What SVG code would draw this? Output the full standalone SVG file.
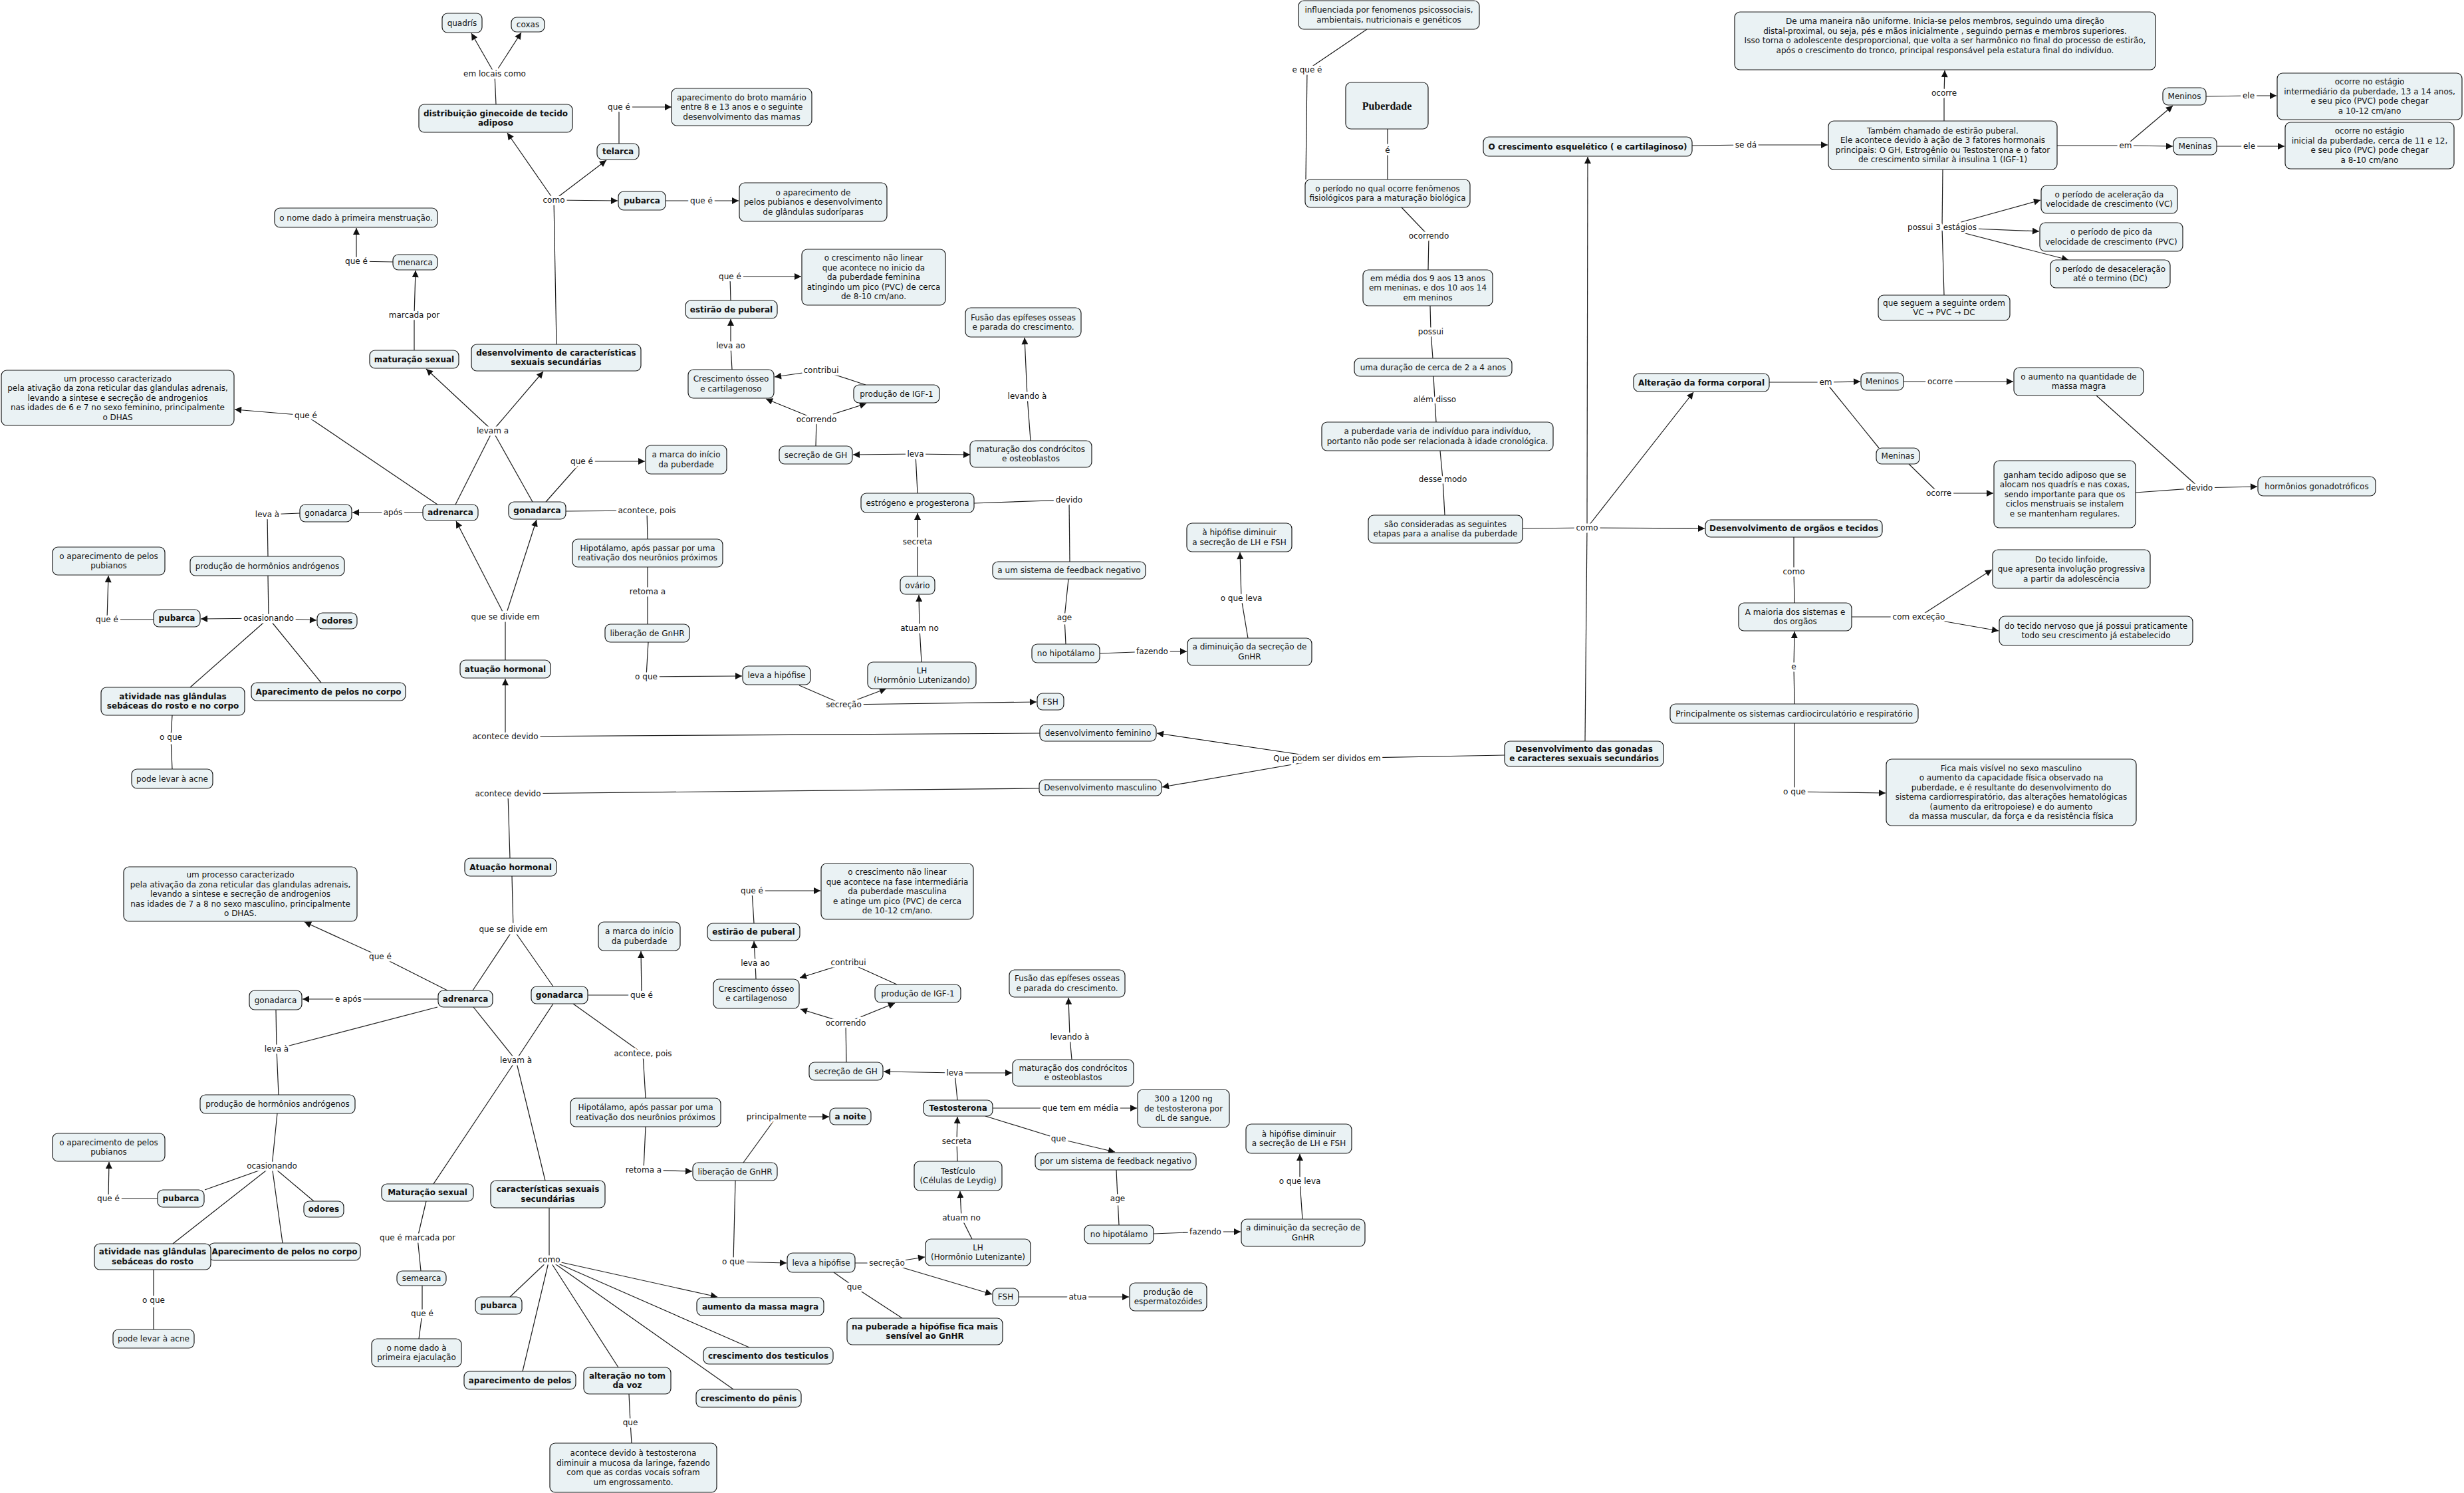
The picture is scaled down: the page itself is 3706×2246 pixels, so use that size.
<svg xmlns="http://www.w3.org/2000/svg" width="3706" height="2246" viewBox="0 0 3706 2246">
<style>
.n rect{fill:#eaf2f4;stroke:#1a1a1a;stroke-width:1.2}
.n text{font-family:"DejaVu Sans",Verdana,sans-serif;font-size:12px;fill:#111;text-anchor:middle}
.b text{font-weight:bold}
.c path{stroke:#1a1a1a;stroke-width:1.2;fill:none}
.c path.a{marker-end:url(#ah)}
.l text{font-family:"DejaVu Sans",Verdana,sans-serif;font-size:12px;fill:#111;text-anchor:middle;paint-order:stroke;stroke:#fff;stroke-width:7px;stroke-linejoin:round}
</style>
<defs>
<marker id="ah" viewBox="0 0 10 10" refX="10" refY="5" markerWidth="11" markerHeight="10" markerUnits="userSpaceOnUse" orient="auto"><path d="M0,0 L10,5 L0,10 z" fill="#111"/></marker>
</defs>
<rect x="0" y="0" width="3706" height="2246" fill="#fff"/>
<g id="connectors" class="c">
<path d="M746 157 L744 111"/>
<path class="a" d="M744 111 L709 50"/>
<path class="a" d="M744 111 L784 49"/>
<path d="M837 518 L833 301"/>
<path class="a" d="M833 301 L763 200"/>
<path class="a" d="M833 301 L912 241"/>
<path class="a" d="M833 301 L929 302"/>
<path d="M931 216 L931 161"/>
<path class="a" d="M931 161 L1010 161"/>
<path d="M1001 302 L1055 302"/>
<path class="a" d="M1055 302 L1111 302"/>
<path d="M591 394 L536 393"/>
<path class="a" d="M536 393 L536 343"/>
<path d="M623 527 L623 474"/>
<path class="a" d="M623 474 L625 407"/>
<path d="M658 759 L460 625"/>
<path class="a" d="M460 625 L353 616"/>
<path d="M685 759 L741 648"/>
<path d="M801 755 L741 648"/>
<path class="a" d="M741 648 L641 555"/>
<path class="a" d="M741 648 L817 559"/>
<path d="M821 755 L875 694"/>
<path class="a" d="M875 694 L970 694"/>
<path d="M1099 452 L1098 416"/>
<path class="a" d="M1098 416 L1205 416"/>
<path d="M1101 556 L1099 520"/>
<path class="a" d="M1099 520 L1099 480"/>
<path d="M1302 579 L1235 557"/>
<path class="a" d="M1235 557 L1165 567"/>
<path d="M1227 671 L1228 631"/>
<path class="a" d="M1228 631 L1152 600"/>
<path class="a" d="M1228 631 L1303 607"/>
<path d="M1380 742 L1377 683"/>
<path class="a" d="M1377 683 L1283 684"/>
<path class="a" d="M1377 683 L1459 684"/>
<path d="M1550 663 L1545 596"/>
<path class="a" d="M1545 596 L1541 508"/>
<path d="M1465 757 L1608 752"/>
<path d="M1608 752 L1609 845"/>
<path d="M636 771 L591 771"/>
<path class="a" d="M591 771 L530 771"/>
<path d="M451 772 L402 774"/>
<path d="M402 774 L403 837"/>
<path d="M851 769 L973 768"/>
<path d="M973 768 L974 811"/>
<path d="M974 853 L974 890"/>
<path d="M974 890 L974 939"/>
<path d="M975 966 L972 1018"/>
<path class="a" d="M972 1018 L1116 1017"/>
<path d="M1202 1031 L1269 1060"/>
<path class="a" d="M1269 1060 L1333 1036"/>
<path class="a" d="M1269 1060 L1559 1056"/>
<path d="M1386 996 L1383 945"/>
<path class="a" d="M1383 945 L1382 895"/>
<path d="M1380 867 L1380 815"/>
<path class="a" d="M1380 815 L1380 772"/>
<path d="M1607 871 L1601 929"/>
<path d="M1601 929 L1603 969"/>
<path d="M1654 983 L1733 980"/>
<path class="a" d="M1733 980 L1785 980"/>
<path d="M1877 960 L1867 900"/>
<path class="a" d="M1867 900 L1865 831"/>
<path d="M1564 1103 L760 1108"/>
<path class="a" d="M760 1108 L760 1021"/>
<path d="M2263 1136 L1996 1141"/>
<path class="a" d="M1996 1141 L1740 1103"/>
<path class="a" d="M1996 1141 L1748 1184"/>
<path d="M1563 1186 L764 1194"/>
<path d="M764 1194 L767 1291"/>
<path d="M760 993 L760 928"/>
<path class="a" d="M760 928 L686 784"/>
<path class="a" d="M760 928 L807 782"/>
<path d="M403 866 L404 930"/>
<path class="a" d="M404 930 L302 931"/>
<path class="a" d="M404 930 L476 933"/>
<path d="M404 930 L286 1034"/>
<path d="M404 930 L483 1027"/>
<path d="M231 932 L161 932"/>
<path class="a" d="M161 932 L163 866"/>
<path d="M259 1076 L257 1109"/>
<path d="M257 1109 L259 1157"/>
<path d="M2056 44 L1966 105"/>
<path d="M1966 105 L1964 270"/>
<path d="M2087 194 L2087 226"/>
<path d="M2087 226 L2087 270"/>
<path d="M2108 312 L2149 355"/>
<path d="M2149 355 L2148 406"/>
<path d="M2151 460 L2152 499"/>
<path d="M2152 499 L2155 539"/>
<path d="M2156 566 L2158 601"/>
<path d="M2158 601 L2160 635"/>
<path d="M2166 678 L2170 721"/>
<path d="M2170 721 L2173 775"/>
<path d="M2290 795 L2387 794"/>
<path class="a" d="M2387 794 L2388 236"/>
<path class="a" d="M2387 794 L2547 590"/>
<path class="a" d="M2387 794 L2564 795"/>
<path d="M2387 794 L2384 1115"/>
<path d="M2545 219 L2626 218"/>
<path class="a" d="M2626 218 L2749 218"/>
<path d="M2924 182 L2924 140"/>
<path class="a" d="M2924 140 L2925 106"/>
<path d="M3094 219 L3197 219"/>
<path class="a" d="M3197 219 L3268 159"/>
<path class="a" d="M3197 219 L3268 220"/>
<path d="M3318 145 L3382 144"/>
<path class="a" d="M3382 144 L3424 144"/>
<path d="M3334 220 L3383 220"/>
<path class="a" d="M3383 220 L3436 220"/>
<path d="M2922 255 L2921 342"/>
<path d="M2921 342 L2924 444"/>
<path class="a" d="M2921 342 L3069 301"/>
<path class="a" d="M2921 342 L3067 348"/>
<path class="a" d="M2921 342 L3111 391"/>
<path d="M2661 575 L2746 575"/>
<path class="a" d="M2746 575 L2798 574"/>
<path d="M2746 575 L2826 674"/>
<path d="M2863 574 L2918 574"/>
<path class="a" d="M2918 574 L3028 574"/>
<path d="M2871 698 L2916 742"/>
<path class="a" d="M2916 742 L2998 742"/>
<path d="M3212 741 L3308 734"/>
<path d="M3153 595 L3308 734"/>
<path class="a" d="M3308 734 L3395 732"/>
<path d="M2698 808 L2698 860"/>
<path d="M2698 860 L2699 907"/>
<path d="M2699 1059 L2698 1003"/>
<path class="a" d="M2698 1003 L2699 950"/>
<path d="M2699 1088 L2699 1191"/>
<path class="a" d="M2699 1191 L2836 1193"/>
<path d="M2785 928 L2886 928"/>
<path class="a" d="M2886 928 L2996 857"/>
<path class="a" d="M2886 928 L3006 949"/>
<path d="M770 1318 L772 1398"/>
<path d="M772 1398 L711 1490"/>
<path d="M772 1398 L832 1484"/>
<path d="M673 1490 L572 1439"/>
<path class="a" d="M572 1439 L458 1387"/>
<path d="M659 1503 L524 1503"/>
<path class="a" d="M524 1503 L455 1503"/>
<path d="M415 1519 L416 1578"/>
<path d="M658 1515 L416 1578"/>
<path d="M416 1578 L419 1647"/>
<path d="M417 1675 L409 1754"/>
<path d="M409 1754 L308 1790"/>
<path d="M409 1754 L260 1871"/>
<path d="M409 1754 L425 1870"/>
<path d="M409 1754 L472 1807"/>
<path d="M237 1803 L163 1803"/>
<path class="a" d="M163 1803 L164 1748"/>
<path d="M231 1910 L231 1956"/>
<path d="M231 1956 L231 2000"/>
<path d="M712 1515 L776 1595"/>
<path d="M832 1510 L776 1595"/>
<path d="M776 1595 L652 1781"/>
<path d="M776 1595 L820 1776"/>
<path d="M641 1807 L628 1862"/>
<path d="M628 1862 L633 1912"/>
<path d="M635 1934 L635 1976"/>
<path d="M635 1976 L630 2014"/>
<path d="M826 1817 L826 1895"/>
<path d="M826 1895 L767 1951"/>
<path d="M826 1895 L786 2063"/>
<path d="M826 1895 L930 2057"/>
<path class="a" d="M826 1895 L1079 1951"/>
<path d="M826 1895 L1127 2027"/>
<path d="M826 1895 L1103 2090"/>
<path d="M946 2097 L948 2140"/>
<path d="M948 2140 L950 2171"/>
<path d="M862 1510 L967 1585"/>
<path d="M967 1585 L971 1652"/>
<path d="M971 1695 L968 1760"/>
<path class="a" d="M968 1760 L1041 1762"/>
<path d="M1118 1749 L1168 1680"/>
<path class="a" d="M1168 1680 L1247 1680"/>
<path d="M1106 1776 L1103 1898"/>
<path class="a" d="M1103 1898 L1183 1900"/>
<path d="M1286 1900 L1334 1900"/>
<path class="a" d="M1334 1900 L1391 1891"/>
<path class="a" d="M1334 1900 L1492 1947"/>
<path d="M1254 1914 L1285 1936"/>
<path d="M1285 1936 L1357 1983"/>
<path d="M1532 1951 L1621 1951"/>
<path class="a" d="M1621 1951 L1698 1951"/>
<path d="M1462 1864 L1446 1832"/>
<path class="a" d="M1446 1832 L1444 1792"/>
<path d="M1440 1747 L1439 1717"/>
<path class="a" d="M1439 1717 L1440 1680"/>
<path d="M1493 1667 L1625 1667"/>
<path class="a" d="M1625 1667 L1710 1667"/>
<path d="M1482 1679 L1592 1713"/>
<path class="a" d="M1592 1713 L1677 1733"/>
<path d="M1679 1760 L1681 1803"/>
<path d="M1681 1803 L1683 1843"/>
<path d="M1735 1856 L1813 1853"/>
<path class="a" d="M1813 1853 L1866 1853"/>
<path d="M1959 1834 L1955 1777"/>
<path class="a" d="M1955 1777 L1955 1736"/>
<path d="M1440 1655 L1436 1614"/>
<path class="a" d="M1436 1614 L1329 1612"/>
<path class="a" d="M1436 1614 L1522 1614"/>
<path d="M1612 1594 L1609 1560"/>
<path class="a" d="M1609 1560 L1607 1501"/>
<path d="M1273 1598 L1272 1539"/>
<path class="a" d="M1272 1539 L1204 1518"/>
<path class="a" d="M1272 1539 L1346 1509"/>
<path d="M1349 1481 L1276 1448"/>
<path class="a" d="M1276 1448 L1203 1471"/>
<path d="M1137 1473 L1136 1449"/>
<path class="a" d="M1136 1449 L1134 1416"/>
<path d="M1134 1389 L1131 1340"/>
<path class="a" d="M1131 1340 L1234 1340"/>
<path d="M884 1497 L965 1497"/>
<path class="a" d="M965 1497 L964 1431"/>
</g>
<g id="labels" class="l">
<text x="744" y="115">em locais como</text>
<text x="833" y="305">como</text>
<text x="931" y="165">que é</text>
<text x="1055" y="306">que é</text>
<text x="536" y="397">que é</text>
<text x="623" y="478">marcada por</text>
<text x="460" y="629">que é</text>
<text x="741" y="652">levam a</text>
<text x="875" y="698">que é</text>
<text x="1098" y="420">que é</text>
<text x="1099" y="524">leva ao</text>
<text x="1235" y="561">contribui</text>
<text x="1228" y="635">ocorrendo</text>
<text x="1377" y="687">leva</text>
<text x="1545" y="600">levando à</text>
<text x="1608" y="756">devido</text>
<text x="591" y="775">após</text>
<text x="402" y="778">leva à</text>
<text x="973" y="772">acontece, pois</text>
<text x="974" y="894">retoma a</text>
<text x="972" y="1022">o que</text>
<text x="1269" y="1064">secreção</text>
<text x="1383" y="949">atuam no</text>
<text x="1380" y="819">secreta</text>
<text x="1601" y="933">age</text>
<text x="1733" y="984">fazendo</text>
<text x="1867" y="904">o que leva</text>
<text x="760" y="1112">acontece devido</text>
<text x="1996" y="1145">Que podem ser dividos em</text>
<text x="764" y="1198">acontece devido</text>
<text x="760" y="932">que se divide em</text>
<text x="404" y="934">ocasionando</text>
<text x="161" y="936">que é</text>
<text x="257" y="1113">o que</text>
<text x="1966" y="109">e que é</text>
<text x="2087" y="230">é</text>
<text x="2149" y="359">ocorrendo</text>
<text x="2152" y="503">possui</text>
<text x="2158" y="605">além disso</text>
<text x="2170" y="725">desse modo</text>
<text x="2387" y="798">como</text>
<text x="2626" y="222">se dá</text>
<text x="2924" y="144">ocorre</text>
<text x="3197" y="223">em</text>
<text x="3382" y="148">ele</text>
<text x="3383" y="224">ele</text>
<text x="2921" y="346">possui 3 estágios</text>
<text x="2746" y="579">em</text>
<text x="2918" y="578">ocorre</text>
<text x="2916" y="746">ocorre</text>
<text x="3308" y="738">devido</text>
<text x="2698" y="864">como</text>
<text x="2698" y="1007">e</text>
<text x="2699" y="1195">o que</text>
<text x="2886" y="932">com exceção</text>
<text x="772" y="1402">que se divide em</text>
<text x="572" y="1443">que é</text>
<text x="524" y="1507">e após</text>
<text x="416" y="1582">leva à</text>
<text x="409" y="1758">ocasionando</text>
<text x="163" y="1807">que é</text>
<text x="231" y="1960">o que</text>
<text x="776" y="1599">levam à</text>
<text x="628" y="1866">que é marcada por</text>
<text x="635" y="1980">que é</text>
<text x="826" y="1899">como</text>
<text x="948" y="2144">que</text>
<text x="967" y="1589">acontece, pois</text>
<text x="968" y="1764">retoma a</text>
<text x="1168" y="1684">principalmente</text>
<text x="1103" y="1902">o que</text>
<text x="1334" y="1904">secreção</text>
<text x="1285" y="1940">que</text>
<text x="1621" y="1955">atua</text>
<text x="1446" y="1836">atuam no</text>
<text x="1439" y="1721">secreta</text>
<text x="1625" y="1671">que tem em média</text>
<text x="1592" y="1717">que</text>
<text x="1681" y="1807">age</text>
<text x="1813" y="1857">fazendo</text>
<text x="1955" y="1781">o que leva</text>
<text x="1436" y="1618">leva</text>
<text x="1609" y="1564">levando à</text>
<text x="1272" y="1543">ocorrendo</text>
<text x="1276" y="1452">contribui</text>
<text x="1136" y="1453">leva ao</text>
<text x="1131" y="1344">que é</text>
<text x="965" y="1501">que é</text>
</g>
<g id="quadris" class="n"><rect x="665" y="20" width="60" height="29" rx="8"/><text x="695" y="38.5">quadrís</text></g>
<g id="coxas" class="n"><rect x="769" y="26" width="50" height="22" rx="8"/><text x="794" y="41">coxas</text></g>
<g id="distribuicao" class="n b"><rect x="630" y="157" width="231" height="42" rx="8"/><text x="745.5" y="174.75"><tspan x="745.5">distribuição ginecoide de tecido</tspan><tspan x="745.5" dy="14.5">adiposo</tspan></text></g>
<g id="telarca" class="n b"><rect x="898" y="216" width="63" height="24" rx="8"/><text x="929.5" y="232">telarca</text></g>
<g id="broto" class="n"><rect x="1010" y="133" width="211" height="56" rx="8"/><text x="1115.5" y="150.5"><tspan x="1115.5">aparecimento do broto mamário</tspan><tspan x="1115.5" dy="14.5">entre 8 e 13 anos e o seguinte</tspan><tspan x="1115.5" dy="14.5">desenvolvimento das mamas</tspan></text></g>
<g id="pubarca1" class="n b"><rect x="930" y="288" width="71" height="28" rx="8"/><text x="965.5" y="306">pubarca</text></g>
<g id="pelos_sudor" class="n"><rect x="1112" y="275" width="222" height="58" rx="8"/><text x="1223" y="293.5"><tspan x="1223">o aparecimento de</tspan><tspan x="1223" dy="14.5">pelos pubianos e desenvolvimento</tspan><tspan x="1223" dy="14.5">de glândulas sudoríparas</tspan></text></g>
<g id="nome_menst" class="n"><rect x="413" y="313" width="245" height="29" rx="8"/><text x="535.5" y="331.5">o nome dado à primeira menstruação.</text></g>
<g id="menarca" class="n"><rect x="591" y="383" width="67" height="23" rx="8"/><text x="624.5" y="398.5">menarca</text></g>
<g id="maturacao1" class="n b"><rect x="556" y="527" width="134" height="27" rx="8"/><text x="623" y="544.5">maturação sexual</text></g>
<g id="desenv_carac" class="n b"><rect x="709" y="518" width="255" height="40" rx="8"/><text x="836.5" y="534.75"><tspan x="836.5">desenvolvimento de características</tspan><tspan x="836.5" dy="14.5">sexuais secundárias</tspan></text></g>
<g id="processo1" class="n"><rect x="2" y="557" width="350" height="83" rx="8"/><text x="177" y="573.5"><tspan x="177">um processo caracterizado</tspan><tspan x="177" dy="14.5">pela ativação da zona reticular das glandulas adrenais,</tspan><tspan x="177" dy="14.5">levando a sintese e secreção de androgenios</tspan><tspan x="177" dy="14.5">nas idades de 6 e 7 no sexo feminino, principalmente</tspan><tspan x="177" dy="14.5">o DHAS</tspan></text></g>
<g id="estirao1" class="n b"><rect x="1031" y="452" width="138" height="27" rx="8"/><text x="1100" y="469.5">estirão de puberal</text></g>
<g id="naolinear1" class="n"><rect x="1206" y="375" width="216" height="84" rx="8"/><text x="1314" y="392"><tspan x="1314">o crescimento não linear</tspan><tspan x="1314" dy="14.5">que acontece no inicio da</tspan><tspan x="1314" dy="14.5">da puberdade feminina</tspan><tspan x="1314" dy="14.5">atingindo um pico (PVC) de cerca</tspan><tspan x="1314" dy="14.5">de 8-10 cm/ano.</tspan></text></g>
<g id="cresc1" class="n"><rect x="1035" y="556" width="129" height="43" rx="8"/><text x="1099.5" y="574.25"><tspan x="1099.5">Crescimento ósseo</tspan><tspan x="1099.5" dy="14.5">e cartilagenoso</tspan></text></g>
<g id="igf1" class="n"><rect x="1284" y="579" width="129" height="27" rx="8"/><text x="1348.5" y="596.5">produção de IGF-1</text></g>
<g id="gh1" class="n"><rect x="1172" y="671" width="110" height="27" rx="8"/><text x="1227" y="688.5">secreção de GH</text></g>
<g id="matcond1" class="n"><rect x="1459" y="663" width="183" height="40" rx="8"/><text x="1550.5" y="679.75"><tspan x="1550.5">maturação dos condrócitos</tspan><tspan x="1550.5" dy="14.5">e osteoblastos</tspan></text></g>
<g id="fusao1" class="n"><rect x="1452" y="463" width="174" height="44" rx="8"/><text x="1539" y="481.75"><tspan x="1539">Fusão das epífeses osseas</tspan><tspan x="1539" dy="14.5">e parada do crescimento.</tspan></text></g>
<g id="marca1" class="n"><rect x="971" y="670" width="122" height="43" rx="8"/><text x="1032" y="688.25"><tspan x="1032">a marca do início</tspan><tspan x="1032" dy="14.5">da puberdade</tspan></text></g>
<g id="estrogeno" class="n"><rect x="1295" y="742" width="170" height="29" rx="8"/><text x="1380" y="760.5">estrógeno e progesterona</text></g>
<g id="gonadarca_p1" class="n"><rect x="451" y="759" width="78" height="26" rx="8"/><text x="490" y="776">gonadarca</text></g>
<g id="adrenarca1" class="n b"><rect x="636" y="759" width="83" height="24" rx="8"/><text x="677.5" y="775">adrenarca</text></g>
<g id="gonadarca_b1" class="n b"><rect x="765" y="755" width="86" height="26" rx="8"/><text x="808" y="772">gonadarca</text></g>
<g id="hipotalamo1" class="n"><rect x="861" y="811" width="226" height="42" rx="8"/><text x="974" y="828.75"><tspan x="974">Hipotálamo, após passar por uma</tspan><tspan x="974" dy="14.5">reativação dos neurônios próximos</tspan></text></g>
<g id="gnhr1" class="n"><rect x="910" y="939" width="127" height="27" rx="8"/><text x="973.5" y="956.5">liberação de GnHR</text></g>
<g id="hipofise1" class="n"><rect x="1117" y="1002" width="102" height="28" rx="8"/><text x="1168" y="1020">leva a hipófise</text></g>
<g id="lh1" class="n"><rect x="1305" y="996" width="163" height="40" rx="8"/><text x="1386.5" y="1012.75"><tspan x="1386.5">LH</tspan><tspan x="1386.5" dy="14.5">(Hormônio Lutenizando)</tspan></text></g>
<g id="fsh1" class="n"><rect x="1560" y="1043" width="40" height="25" rx="8"/><text x="1580" y="1059.5">FSH</text></g>
<g id="ovario" class="n"><rect x="1354" y="867" width="52" height="27" rx="8"/><text x="1380" y="884.5">ovário</text></g>
<g id="feedback1" class="n"><rect x="1493" y="845" width="230" height="26" rx="8"/><text x="1608" y="862">a um sistema de feedback negativo</text></g>
<g id="nohipo1" class="n"><rect x="1552" y="969" width="102" height="28" rx="8"/><text x="1603" y="987">no hipotálamo</text></g>
<g id="diminuicao1" class="n"><rect x="1786" y="960" width="187" height="41" rx="8"/><text x="1879.5" y="977.25"><tspan x="1879.5">a diminuição da secreção de</tspan><tspan x="1879.5" dy="14.5">GnHR</tspan></text></g>
<g id="hipodim1" class="n"><rect x="1785" y="787" width="158" height="43" rx="8"/><text x="1864" y="805.25"><tspan x="1864">à hipófise diminuir</tspan><tspan x="1864" dy="14.5">a secreção de LH e FSH</tspan></text></g>
<g id="desfem" class="n"><rect x="1564" y="1090" width="175" height="25" rx="8"/><text x="1651.5" y="1106.5">desenvolvimento feminino</text></g>
<g id="desmasc" class="n"><rect x="1563" y="1173" width="184" height="24" rx="8"/><text x="1655" y="1189">Desenvolvimento masculino</text></g>
<g id="producao_andr1" class="n"><rect x="286" y="837" width="232" height="29" rx="8"/><text x="402" y="855.5">produção de hormônios andrógenos</text></g>
<g id="pubarca2" class="n b"><rect x="231" y="917" width="70" height="26" rx="8"/><text x="266" y="934">pubarca</text></g>
<g id="odores1" class="n b"><rect x="477" y="922" width="60" height="24" rx="8"/><text x="507" y="938">odores</text></g>
<g id="pelospub1" class="n"><rect x="79" y="823" width="169" height="42" rx="8"/><text x="163.5" y="840.75"><tspan x="163.5">o aparecimento de pelos</tspan><tspan x="163.5" dy="14.5">pubianos</tspan></text></g>
<g id="atividade1" class="n b"><rect x="152" y="1034" width="216" height="42" rx="8"/><text x="260" y="1051.75"><tspan x="260">atividade nas glândulas</tspan><tspan x="260" dy="14.5">sebáceas do rosto e no corpo</tspan></text></g>
<g id="aparecimento_corpo1" class="n b"><rect x="378" y="1027" width="232" height="27" rx="8"/><text x="494" y="1044.5">Aparecimento de pelos no corpo</text></g>
<g id="acne1" class="n"><rect x="198" y="1157" width="122" height="29" rx="8"/><text x="259" y="1175.5">pode levar à acne</text></g>
<g id="atuacao1" class="n b"><rect x="692" y="993" width="136" height="27" rx="8"/><text x="760" y="1010.5">atuação hormonal</text></g>
<g id="influenciada" class="n"><rect x="1953" y="1" width="272" height="43" rx="8"/><text x="2089" y="19.25"><tspan x="2089">influenciada por fenomenos psicossociais,</tspan><tspan x="2089" dy="14.5">ambientais, nutricionais e genéticos</tspan></text></g>
<g id="puberdade" class="n"><rect x="2024" y="124" width="124" height="70" rx="8"/><text x="2086" y="164.5" style="font-family:'Liberation Serif','Times New Roman',serif;font-size:16px;font-weight:bold">Puberdade</text></g>
<g id="periodo" class="n"><rect x="1963" y="270" width="248" height="42" rx="8"/><text x="2087" y="287.75"><tspan x="2087">o período no qual ocorre fenômenos</tspan><tspan x="2087" dy="14.5">fisiológicos para a maturação biológica</tspan></text></g>
<g id="emmedia" class="n"><rect x="2050" y="406" width="195" height="54" rx="8"/><text x="2147.5" y="422.5"><tspan x="2147.5">em média dos 9 aos 13 anos</tspan><tspan x="2147.5" dy="14.5">em meninas, e dos 10 aos 14</tspan><tspan x="2147.5" dy="14.5">em meninos</tspan></text></g>
<g id="duracao" class="n"><rect x="2037" y="539" width="237" height="27" rx="8"/><text x="2155.5" y="556.5">uma duração de cerca de 2 a 4 anos</text></g>
<g id="varia" class="n"><rect x="1988" y="635" width="348" height="43" rx="8"/><text x="2162" y="653.25"><tspan x="2162">a puberdade varia de indivíduo para indivíduo,</tspan><tspan x="2162" dy="14.5">portanto não pode ser relacionada à idade cronológica.</tspan></text></g>
<g id="consideradas" class="n"><rect x="2058" y="775" width="232" height="42" rx="8"/><text x="2174" y="792.75"><tspan x="2174">são consideradas as seguintes</tspan><tspan x="2174" dy="14.5">etapas para a analise da puberdade</tspan></text></g>
<g id="esqueletico" class="n b"><rect x="2231" y="206" width="314" height="29" rx="8"/><text x="2388" y="224.5">O crescimento esquelético ( e cartilaginoso)</text></g>
<g id="umamaneira" class="n"><rect x="2609" y="18" width="633" height="87" rx="8"/><text x="2925.5" y="36"><tspan x="2925.5">De uma maneira não uniforme. Inicia-se pelos membros, seguindo uma direção</tspan><tspan x="2925.5" dy="14.5">distal-proximal, ou seja, pés e mãos inicialmente , seguindo pernas e membros superiores.</tspan><tspan x="2925.5" dy="14.5">Isso torna o adolescente desproporcional, que volta a ser harmônico no final do processo de estirão,</tspan><tspan x="2925.5" dy="14.5">após o crescimento do tronco, principal responsável pela estatura final do indivíduo.</tspan></text></g>
<g id="tambem" class="n"><rect x="2750" y="182" width="344" height="73" rx="8"/><text x="2922" y="200.75"><tspan x="2922">Também chamado de estirão puberal.</tspan><tspan x="2922" dy="14.5">Ele acontece devido à ação de 3 fatores hormonais</tspan><tspan x="2922" dy="14.5">principais: O GH, Estrogênio ou Testosterona e o fator</tspan><tspan x="2922" dy="14.5">de crescimento similar à insulina 1 (IGF-1)</tspan></text></g>
<g id="meninos1" class="n"><rect x="3253" y="132" width="65" height="26" rx="8"/><text x="3285.5" y="149">Meninos</text></g>
<g id="estagio_inter" class="n"><rect x="3425" y="110" width="278" height="70" rx="8"/><text x="3564" y="127.25"><tspan x="3564">ocorre no estágio</tspan><tspan x="3564" dy="14.5">intermediário da puberdade, 13 a 14 anos,</tspan><tspan x="3564" dy="14.5">e seu pico (PVC) pode chegar</tspan><tspan x="3564" dy="14.5">a 10-12 cm/ano</tspan></text></g>
<g id="meninas1" class="n"><rect x="3269" y="207" width="65" height="26" rx="8"/><text x="3301.5" y="224">Meninas</text></g>
<g id="estagio_ini" class="n"><rect x="3437" y="184" width="254" height="70" rx="8"/><text x="3564" y="201.25"><tspan x="3564">ocorre no estágio</tspan><tspan x="3564" dy="14.5">inicial da puberdade, cerca de 11 e 12,</tspan><tspan x="3564" dy="14.5">e seu pico (PVC) pode chegar</tspan><tspan x="3564" dy="14.5">a 8-10 cm/ano</tspan></text></g>
<g id="vc" class="n"><rect x="3070" y="279" width="205" height="42" rx="8"/><text x="3172.5" y="296.75"><tspan x="3172.5">o período de aceleração da</tspan><tspan x="3172.5" dy="14.5">velocidade de crescimento (VC)</tspan></text></g>
<g id="pvc" class="n"><rect x="3068" y="335" width="215" height="43" rx="8"/><text x="3175.5" y="353.25"><tspan x="3175.5">o período de pico da</tspan><tspan x="3175.5" dy="14.5">velocidade de crescimento (PVC)</tspan></text></g>
<g id="dc" class="n"><rect x="3084" y="391" width="180" height="42" rx="8"/><text x="3174" y="408.75"><tspan x="3174">o período de desaceleração</tspan><tspan x="3174" dy="14.5">até o termino (DC)</tspan></text></g>
<g id="seguem" class="n"><rect x="2825" y="444" width="198" height="38" rx="8"/><text x="2924" y="459.75"><tspan x="2924">que seguem a seguinte ordem</tspan><tspan x="2924" dy="14.5">VC → PVC → DC</tspan></text></g>
<g id="alteracao" class="n b"><rect x="2457" y="562" width="204" height="27" rx="8"/><text x="2559" y="579.5">Alteração da forma corporal</text></g>
<g id="meninos2" class="n"><rect x="2799" y="561" width="64" height="26" rx="8"/><text x="2831" y="578">Meninos</text></g>
<g id="massamagra" class="n"><rect x="3029" y="553" width="195" height="42" rx="8"/><text x="3126.5" y="570.75"><tspan x="3126.5">o aumento na quantidade de</tspan><tspan x="3126.5" dy="14.5">massa magra</tspan></text></g>
<g id="meninas2" class="n"><rect x="2822" y="674" width="65" height="24" rx="8"/><text x="2854.5" y="690">Meninas</text></g>
<g id="ganham" class="n"><rect x="2999" y="693" width="213" height="101" rx="8"/><text x="3105.5" y="718.5"><tspan x="3105.5">ganham tecido adiposo que se</tspan><tspan x="3105.5" dy="14.5">alocam nos quadrís e nas coxas,</tspan><tspan x="3105.5" dy="14.5">sendo importante para que os</tspan><tspan x="3105.5" dy="14.5">ciclos menstruais se instalem</tspan><tspan x="3105.5" dy="14.5">e se mantenham regulares.</tspan></text></g>
<g id="hormonios_gon" class="n"><rect x="3396" y="717" width="177" height="29" rx="8"/><text x="3484.5" y="735.5">hormônios gonadotróficos</text></g>
<g id="orgaos" class="n b"><rect x="2565" y="782" width="266" height="26" rx="8"/><text x="2698" y="799">Desenvolvimento de orgãos e tecidos</text></g>
<g id="maioria" class="n"><rect x="2615" y="907" width="170" height="42" rx="8"/><text x="2700" y="924.75"><tspan x="2700">A maioria dos sistemas e</tspan><tspan x="2700" dy="14.5">dos orgãos</tspan></text></g>
<g id="linfoide" class="n"><rect x="2997" y="827" width="237" height="58" rx="8"/><text x="3115.5" y="845.5"><tspan x="3115.5">Do tecido linfoide,</tspan><tspan x="3115.5" dy="14.5">que apresenta involução progressiva</tspan><tspan x="3115.5" dy="14.5">a partir da adolescência</tspan></text></g>
<g id="nervoso" class="n"><rect x="3007" y="927" width="291" height="44" rx="8"/><text x="3152.5" y="945.75"><tspan x="3152.5">do tecido nervoso que já possui praticamente</tspan><tspan x="3152.5" dy="14.5">todo seu crescimento já estabelecido</tspan></text></g>
<g id="principalmente" class="n"><rect x="2512" y="1059" width="373" height="29" rx="8"/><text x="2698.5" y="1077.5">Principalmente os sistemas cardiocirculatório e respiratório</text></g>
<g id="ficamais" class="n"><rect x="2837" y="1142" width="376" height="100" rx="8"/><text x="3025" y="1159.75"><tspan x="3025">Fica mais visível no sexo masculino</tspan><tspan x="3025" dy="14.5">o aumento da capacidade física observado na</tspan><tspan x="3025" dy="14.5">puberdade, e é resultante do desenvolvimento do</tspan><tspan x="3025" dy="14.5">sistema cardiorrespiratório, das alterações hematológicas</tspan><tspan x="3025" dy="14.5">(aumento da eritropoiese) e do aumento</tspan><tspan x="3025" dy="14.5">da massa muscular, da força e da resistência física</tspan></text></g>
<g id="gonadas" class="n b"><rect x="2263" y="1115" width="239" height="38" rx="8"/><text x="2382.5" y="1130.75"><tspan x="2382.5">Desenvolvimento das gonadas</tspan><tspan x="2382.5" dy="14.5">e caracteres sexuais secundários</tspan></text></g>
<g id="atuacao2" class="n b"><rect x="699" y="1291" width="138" height="27" rx="8"/><text x="768" y="1308.5">Atuação hormonal</text></g>
<g id="processo2" class="n"><rect x="186" y="1304" width="351" height="82" rx="8"/><text x="361.5" y="1320"><tspan x="361.5">um processo caracterizado</tspan><tspan x="361.5" dy="14.5">pela ativação da zona reticular das glandulas adrenais,</tspan><tspan x="361.5" dy="14.5">levando a sintese e secreção de androgenios</tspan><tspan x="361.5" dy="14.5">nas idades de 7 a 8 no sexo masculino, principalmente</tspan><tspan x="361.5" dy="14.5">o DHAS.</tspan></text></g>
<g id="adrenarca2" class="n b"><rect x="659" y="1490" width="82" height="25" rx="8"/><text x="700" y="1506.5">adrenarca</text></g>
<g id="gonadarca_b2" class="n b"><rect x="799" y="1484" width="85" height="26" rx="8"/><text x="841.5" y="1501">gonadarca</text></g>
<g id="gonadarca_p2" class="n"><rect x="375" y="1490" width="79" height="29" rx="8"/><text x="414.5" y="1508.5">gonadarca</text></g>
<g id="producao_andr2" class="n"><rect x="301" y="1647" width="233" height="28" rx="8"/><text x="417.5" y="1665">produção de hormônios andrógenos</text></g>
<g id="pubarca3" class="n b"><rect x="237" y="1790" width="70" height="26" rx="8"/><text x="272" y="1807">pubarca</text></g>
<g id="pelospub2" class="n"><rect x="79" y="1705" width="169" height="42" rx="8"/><text x="163.5" y="1722.75"><tspan x="163.5">o aparecimento de pelos</tspan><tspan x="163.5" dy="14.5">pubianos</tspan></text></g>
<g id="odores2" class="n b"><rect x="457" y="1807" width="60" height="24" rx="8"/><text x="487" y="1823">odores</text></g>
<g id="aparecimento_corpo2" class="n b"><rect x="314" y="1870" width="228" height="26" rx="8"/><text x="428" y="1887">Aparecimento de pelos no corpo</text></g>
<g id="atividade2" class="n b"><rect x="142" y="1871" width="175" height="39" rx="8"/><text x="229.5" y="1887.25"><tspan x="229.5">atividade nas glândulas</tspan><tspan x="229.5" dy="14.5">sebáceas do rosto</tspan></text></g>
<g id="acne2" class="n"><rect x="170" y="2000" width="122" height="28" rx="8"/><text x="231" y="2018">pode levar à acne</text></g>
<g id="maturacao2" class="n b"><rect x="574" y="1781" width="138" height="26" rx="8"/><text x="643" y="1798">Maturação sexual</text></g>
<g id="caracteristicas" class="n b"><rect x="738" y="1776" width="172" height="41" rx="8"/><text x="824" y="1793.25"><tspan x="824">características sexuais</tspan><tspan x="824" dy="14.5">secundárias</tspan></text></g>
<g id="semearca" class="n"><rect x="597" y="1912" width="74" height="22" rx="8"/><text x="634" y="1927">semearca</text></g>
<g id="nome_ejac" class="n"><rect x="559" y="2014" width="135" height="42" rx="8"/><text x="626.5" y="2031.75"><tspan x="626.5">o nome dado à</tspan><tspan x="626.5" dy="14.5">primeira ejaculação</tspan></text></g>
<g id="pubarca4" class="n b"><rect x="715" y="1951" width="70" height="26" rx="8"/><text x="750" y="1968">pubarca</text></g>
<g id="aparecimento_pelos" class="n b"><rect x="698" y="2063" width="168" height="27" rx="8"/><text x="782" y="2080.5">aparecimento de pelos</text></g>
<g id="voz" class="n b"><rect x="878" y="2057" width="131" height="40" rx="8"/><text x="943.5" y="2073.75"><tspan x="943.5">alteração no tom</tspan><tspan x="943.5" dy="14.5">da voz</tspan></text></g>
<g id="acontece_testo" class="n"><rect x="827" y="2171" width="251" height="74" rx="8"/><text x="952.5" y="2190.25"><tspan x="952.5">acontece devido à testosterona</tspan><tspan x="952.5" dy="14.5">diminuir a mucosa da laringe, fazendo</tspan><tspan x="952.5" dy="14.5">com que as cordas vocais sofram</tspan><tspan x="952.5" dy="14.5">um engrossamento.</tspan></text></g>
<g id="massamagra2" class="n b"><rect x="1048" y="1952" width="191" height="27" rx="8"/><text x="1143.5" y="1969.5">aumento da massa magra</text></g>
<g id="testiculos" class="n b"><rect x="1058" y="2027" width="195" height="25" rx="8"/><text x="1155.5" y="2043.5">crescimento dos testiculos</text></g>
<g id="penis" class="n b"><rect x="1047" y="2090" width="158" height="27" rx="8"/><text x="1126" y="2107.5">crescimento do pênis</text></g>
<g id="na_puberade" class="n b"><rect x="1274" y="1983" width="234" height="40" rx="8"/><text x="1391" y="1999.75"><tspan x="1391">na puberade a hipófise fica mais</tspan><tspan x="1391" dy="14.5">sensível ao GnHR</tspan></text></g>
<g id="hipotalamo2" class="n"><rect x="858" y="1652" width="226" height="43" rx="8"/><text x="971" y="1670.25"><tspan x="971">Hipotálamo, após passar por uma</tspan><tspan x="971" dy="14.5">reativação dos neurônios próximos</tspan></text></g>
<g id="gnhr2" class="n"><rect x="1042" y="1749" width="127" height="27" rx="8"/><text x="1105.5" y="1766.5">liberação de GnHR</text></g>
<g id="anoite" class="n b"><rect x="1248" y="1667" width="62" height="25" rx="8"/><text x="1279" y="1683.5">a noite</text></g>
<g id="hipofise2" class="n"><rect x="1184" y="1885" width="102" height="29" rx="8"/><text x="1235" y="1903.5">leva a hipófise</text></g>
<g id="lh2" class="n"><rect x="1392" y="1864" width="158" height="40" rx="8"/><text x="1471" y="1880.75"><tspan x="1471">LH</tspan><tspan x="1471" dy="14.5">(Hormônio Lutenizante)</tspan></text></g>
<g id="fsh2" class="n"><rect x="1493" y="1938" width="39" height="26" rx="8"/><text x="1512.5" y="1955">FSH</text></g>
<g id="espermato" class="n"><rect x="1699" y="1930" width="116" height="42" rx="8"/><text x="1757" y="1947.75"><tspan x="1757">produção de</tspan><tspan x="1757" dy="14.5">espermatozóides</tspan></text></g>
<g id="testiculo" class="n"><rect x="1375" y="1747" width="132" height="44" rx="8"/><text x="1441" y="1765.75"><tspan x="1441">Testículo</tspan><tspan x="1441" dy="14.5">(Células de Leydig)</tspan></text></g>
<g id="testosterona" class="n b"><rect x="1389" y="1655" width="104" height="24" rx="8"/><text x="1441" y="1671">Testosterona</text></g>
<g id="ng" class="n"><rect x="1711" y="1639" width="138" height="57" rx="8"/><text x="1780" y="1657"><tspan x="1780">300 a 1200 ng</tspan><tspan x="1780" dy="14.5">de testosterona por</tspan><tspan x="1780" dy="14.5">dL de sangue.</tspan></text></g>
<g id="feedback2" class="n"><rect x="1557" y="1734" width="242" height="26" rx="8"/><text x="1678" y="1751">por um sistema de feedback negativo</text></g>
<g id="nohipo2" class="n"><rect x="1631" y="1843" width="104" height="28" rx="8"/><text x="1683" y="1861">no hipotálamo</text></g>
<g id="diminuicao2" class="n"><rect x="1867" y="1834" width="186" height="41" rx="8"/><text x="1960" y="1851.25"><tspan x="1960">a diminuição da secreção de</tspan><tspan x="1960" dy="14.5">GnHR</tspan></text></g>
<g id="hipodim2" class="n"><rect x="1874" y="1691" width="159" height="44" rx="8"/><text x="1953.5" y="1709.75"><tspan x="1953.5">à hipófise diminuir</tspan><tspan x="1953.5" dy="14.5">a secreção de LH e FSH</tspan></text></g>
<g id="gh2" class="n"><rect x="1217" y="1598" width="111" height="27" rx="8"/><text x="1272.5" y="1615.5">secreção de GH</text></g>
<g id="matcond2" class="n"><rect x="1523" y="1594" width="182" height="40" rx="8"/><text x="1614" y="1610.75"><tspan x="1614">maturação dos condrócitos</tspan><tspan x="1614" dy="14.5">e osteoblastos</tspan></text></g>
<g id="fusao2" class="n"><rect x="1518" y="1459" width="174" height="41" rx="8"/><text x="1605" y="1476.25"><tspan x="1605">Fusão das epífeses osseas</tspan><tspan x="1605" dy="14.5">e parada do crescimento.</tspan></text></g>
<g id="cresc2" class="n"><rect x="1073" y="1473" width="129" height="44" rx="8"/><text x="1137.5" y="1491.75"><tspan x="1137.5">Crescimento ósseo</tspan><tspan x="1137.5" dy="14.5">e cartilagenoso</tspan></text></g>
<g id="igf2" class="n"><rect x="1316" y="1481" width="129" height="27" rx="8"/><text x="1380.5" y="1498.5">produção de IGF-1</text></g>
<g id="estirao2" class="n b"><rect x="1064" y="1389" width="139" height="26" rx="8"/><text x="1133.5" y="1406">estirão de puberal</text></g>
<g id="naolinear2" class="n"><rect x="1235" y="1299" width="229" height="84" rx="8"/><text x="1349.5" y="1316"><tspan x="1349.5">o crescimento não linear</tspan><tspan x="1349.5" dy="14.5">que acontece na fase intermediária</tspan><tspan x="1349.5" dy="14.5">da puberdade masculina</tspan><tspan x="1349.5" dy="14.5">e atinge um pico (PVC) de cerca</tspan><tspan x="1349.5" dy="14.5">de 10-12 cm/ano.</tspan></text></g>
<g id="marca2" class="n"><rect x="900" y="1387" width="123" height="43" rx="8"/><text x="961.5" y="1405.25"><tspan x="961.5">a marca do início</tspan><tspan x="961.5" dy="14.5">da puberdade</tspan></text></g>
</svg>
